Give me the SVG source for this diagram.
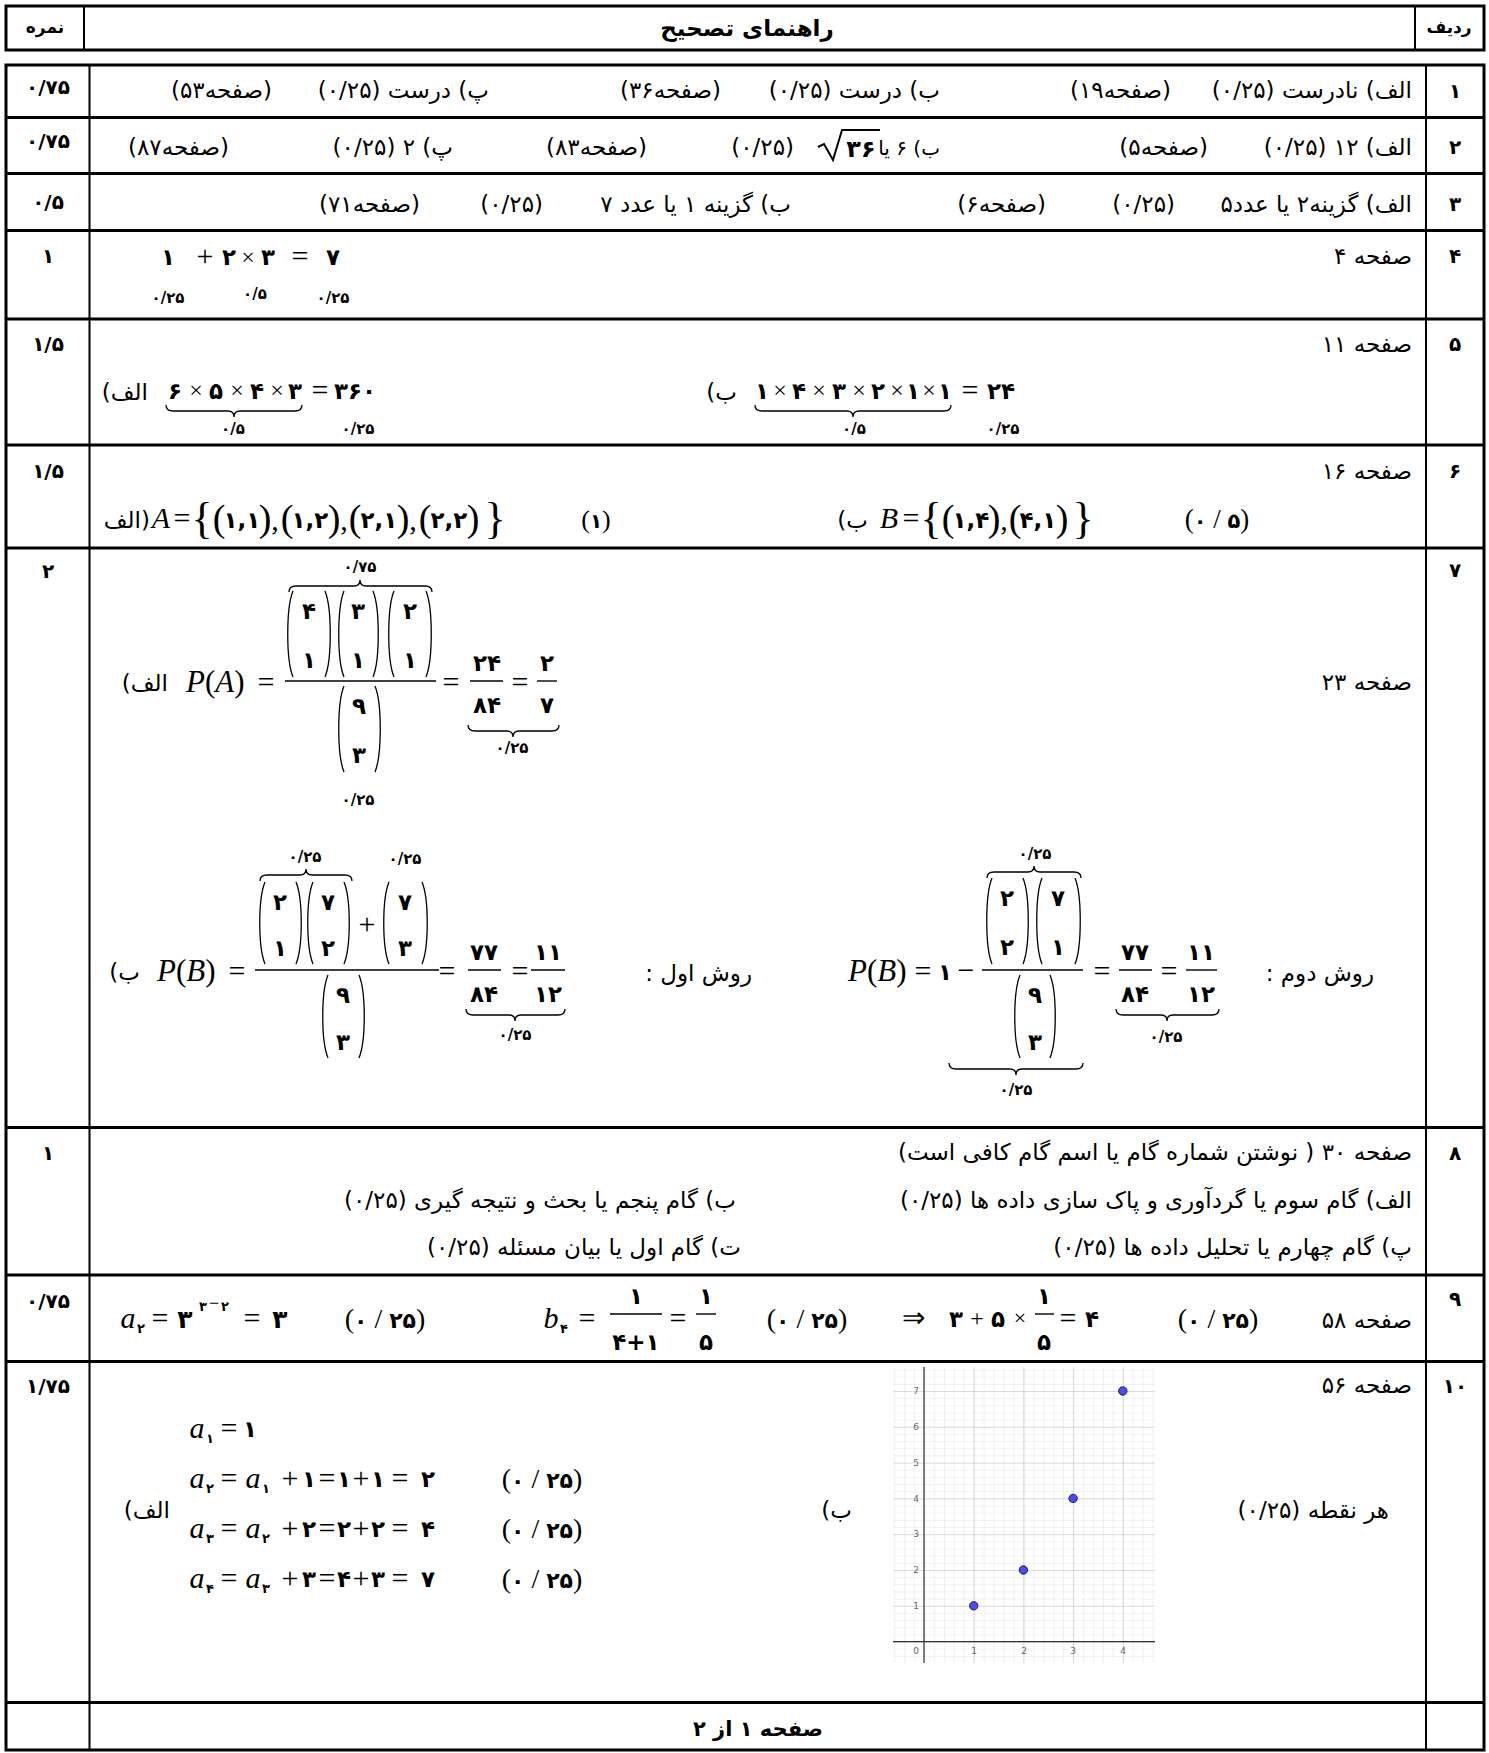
<svg xmlns="http://www.w3.org/2000/svg" width="1489" height="1753" viewBox="0 0 1489 1753">
<defs>
<style>
.ln{stroke:#000;fill:none}
.t3{stroke-width:3}
.t2{stroke-width:2}
.fa{font-family:"DejaVu Sans",sans-serif;font-size:23px;direction:rtl;text-anchor:start}
.fb{font-family:"DejaVu Sans",sans-serif;font-weight:bold;text-anchor:middle}
.rn{font-size:20px}
.sc{font-size:20px}
.m{font-family:"Liberation Serif",serif;font-size:30px;text-anchor:middle}
.ms{font-family:"Liberation Serif",serif;font-size:31px;text-anchor:start}
.it{font-style:italic}
.d{font-family:"DejaVu Sans",sans-serif;font-weight:bold;font-size:23px;text-anchor:middle}
.dg{font-family:"DejaVu Sans",sans-serif;font-weight:bold}
.ds{font-family:"DejaVu Sans",sans-serif;font-weight:bold;font-size:15px;text-anchor:middle}
.sub{font-family:"DejaVu Sans",sans-serif;font-weight:bold;font-size:13px;text-anchor:middle}
.br{fill:none;stroke:#000;stroke-width:1.3}
.bar{stroke:#000;stroke-width:1.4}
.gl{font-family:"DejaVu Sans",sans-serif;font-size:9px;fill:#666;text-anchor:middle}
</style>
<pattern id="minor" patternUnits="userSpaceOnUse" x="924" y="1641.6" width="9.94" height="7.16">
<path d="M0 0 L9.94 0 M0 0 L0 7.16" stroke="#e4e4e4" stroke-width="1" fill="none"/>
</pattern>
<pattern id="major" patternUnits="userSpaceOnUse" x="924" y="1641.6" width="49.7" height="35.8">
<path d="M0 0 L49.7 0 M0 0 L0 35.8" stroke="#c4c4c4" stroke-width="1.2" fill="none"/>
</pattern>
</defs>
<rect width="1489" height="1753" fill="#fff"/>

<g id="header">
<rect class="ln t3" x="6" y="6" width="1478" height="44"/>
<line class="ln t2" x1="84" y1="6" x2="84" y2="50"/>
<line class="ln t2" x1="1415" y1="6" x2="1415" y2="50"/>
<text class="fb" style="font-size:17px" x="45" y="33">نمره</text>
<text class="fb" style="font-size:23px" x="747" y="36">راهنمای تصحیح</text>
<text class="fb" style="font-size:17px" x="1449" y="33">ردیف</text>
</g>

<g id="table-grid">
<rect class="ln t3" x="6" y="65" width="1478" height="1685"/>
<line class="ln t2" x1="89.5" y1="65" x2="89.5" y2="1750"/>
<line class="ln t2" x1="1426" y1="65" x2="1426" y2="1750"/>
<line class="ln t3" x1="6" y1="117.5" x2="1484" y2="117.5"/>
<line class="ln t3" x1="6" y1="173.5" x2="1484" y2="173.5"/>
<line class="ln t3" x1="6" y1="230.5" x2="1484" y2="230.5"/>
<line class="ln t3" x1="6" y1="319" x2="1484" y2="319"/>
<line class="ln t3" x1="6" y1="445" x2="1484" y2="445"/>
<line class="ln t3" x1="6" y1="548" x2="1484" y2="548"/>
<line class="ln t3" x1="6" y1="1127.5" x2="1484" y2="1127.5"/>
<line class="ln t3" x1="6" y1="1275" x2="1484" y2="1275"/>
<line class="ln t3" x1="6" y1="1361.5" x2="1484" y2="1361.5"/>
<line class="ln t3" x1="6" y1="1702.5" x2="1484" y2="1702.5"/>
</g>

<g id="row-numbers" class="fb rn">
<text x="1455" y="98">۱</text>
<text x="1455" y="154">۲</text>
<text x="1455" y="211">۳</text>
<text x="1455" y="263">۴</text>
<text x="1455" y="351">۵</text>
<text x="1455" y="478">۶</text>
<text x="1455" y="577">۷</text>
<text x="1455" y="1160">۸</text>
<text x="1455" y="1306">۹</text>
<text x="1455" y="1393">۱۰</text>
</g>

<g id="scores" class="fb sc">
<text x="48" y="94">۰/۷۵</text>
<text x="48" y="148">۰/۷۵</text>
<text x="48" y="209">۰/۵</text>
<text x="48" y="263">۱</text>
<text x="48" y="351">۱/۵</text>
<text x="48" y="478">۱/۵</text>
<text x="48" y="578">۲</text>
<text x="48" y="1160">۱</text>
<text x="48" y="1308">۰/۷۵</text>
<text x="48" y="1393">۱/۷۵</text>
</g>

<g id="row1">
<text class="fa" x="1412" y="98">الف) نادرست (۰/۲۵)</text>
<text class="fa" x="1171" y="98">(صفحه۱۹)</text>
<text class="fa" x="940" y="98">ب) درست (۰/۲۵)</text>
<text class="fa" x="721" y="98">(صفحه۳۶)</text>
<text class="fa" x="489" y="98">پ) درست (۰/۲۵)</text>
<text class="fa" x="272" y="98">(صفحه۵۳)</text>
</g>

<g id="row2">
<text class="fa" x="1412" y="155">الف) ۱۲  (۰/۲۵)</text>
<text class="fa" x="1208" y="155">(صفحه۵)</text>
<text class="fa" style="font-size:20px" x="940" y="155">ب) ۶ یا</text>
<path class="ln" stroke-width="2" d="M818 147 L824 144 L833 160 L842 130 L880 130"/>
<text class="d" style="font-size:24px" x="861" y="157">۳۶</text>
<text class="fa" x="794" y="155">(۰/۲۵)</text>
<text class="fa" x="647" y="155">(صفحه۸۳)</text>
<text class="fa" x="453" y="155">پ) ۲  (۰/۲۵)</text>
<text class="fa" x="229" y="155">(صفحه۸۷)</text>
</g>

<g id="row3">
<text class="fa" x="1412" y="212">الف) گزینه۲ یا عدد۵</text>
<text class="fa" x="1175" y="212">(۰/۲۵)</text>
<text class="fa" x="1046" y="212">(صفحه۶)</text>
<text class="fa" x="791" y="212">ب) گزینه ۱  یا عدد ۷</text>
<text class="fa" x="543" y="212">(۰/۲۵)</text>
<text class="fa" x="420" y="212">(صفحه۷۱)</text>
</g>

<g id="row4">
<text class="fa" x="1412" y="264">صفحه ۴</text>
<text class="d" x="168" y="265">۱</text>
<text class="m" x="205" y="266">+</text>
<text class="d" x="229" y="265">۲</text>
<text class="m" style="font-size:24px" x="248" y="265">×</text>
<text class="d" x="268" y="265">۳</text>
<text class="m" x="300" y="266">=</text>
<text class="d" x="333" y="265">۷</text>
<text class="ds" x="168" y="303">۰/۲۵</text>
<text class="ds" x="255" y="299">۰/۵</text>
<text class="ds" x="333" y="303">۰/۲۵</text>
</g>

<g id="row5">
<text class="fa" x="1412" y="352">صفحه ۱۱</text>
<text class="fa" x="148" y="400">الف)</text>
<text class="d" x="175" y="399">۶</text>
<text class="m" style="font-size:24px" x="196" y="398">×</text>
<text class="d" x="216" y="399">۵</text>
<text class="m" style="font-size:24px" x="237" y="398">×</text>
<text class="d" x="257" y="399">۴</text>
<text class="m" style="font-size:24px" x="277" y="398">×</text>
<text class="d" x="295" y="399">۳</text>
<text class="m" x="320" y="400">=</text>
<text class="d" x="355" y="399">۳۶۰</text>
<path class="br" d="M166 405 Q166 411 173 411 L228 411 Q234 411 234 417 Q234 411 240 411 L295 411 Q302 411 302 405"/>
<text class="ds" x="233" y="434">۰/۵</text>
<text class="ds" x="358" y="434">۰/۲۵</text>
<text class="fa" x="737" y="400">ب)</text>
<text class="d" x="762" y="399">۱</text>
<text class="m" style="font-size:24px" x="780" y="398">×</text>
<text class="d" x="799" y="399">۴</text>
<text class="m" style="font-size:24px" x="819" y="398">×</text>
<text class="d" x="839" y="399">۳</text>
<text class="m" style="font-size:24px" x="859" y="398">×</text>
<text class="d" x="878" y="399">۲</text>
<text class="m" style="font-size:24px" x="897" y="398">×</text>
<text class="d" x="913" y="399">۱</text>
<text class="m" style="font-size:24px" x="929" y="398">×</text>
<text class="d" x="945" y="399">۱</text>
<text class="m" x="970" y="400">=</text>
<text class="d" x="1001" y="399">۲۴</text>
<path class="br" d="M755 405 Q755 411 762 411 L847 411 Q853 411 853 417 Q853 411 859 411 L944 411 Q951 411 951 405"/>
<text class="ds" x="854" y="434">۰/۵</text>
<text class="ds" x="1003" y="434">۰/۲۵</text>
</g>

<g id="row6">
<text class="fa" x="1412" y="479">صفحه ۱۶</text>
<text style="font-family:'DejaVu Sans',sans-serif;font-size:23px;direction:ltr;text-anchor:end" x="150" y="528">الف)</text>
<text class="m it" x="161" y="528">A</text>
<text class="m" x="182" y="528">=</text>
<text class="m" style="font-size:44px" x="202" y="533">{</text>
<text class="m" style="font-size:38px" x="219" y="531">(</text>
<text class="d" x="242" y="528">۱,۱</text>
<text class="m" style="font-size:38px" x="265" y="531">)</text>
<text class="m" x="275" y="530">,</text>
<text class="m" style="font-size:38px" x="287" y="531">(</text>
<text class="d" x="310" y="528">۱,۲</text>
<text class="m" style="font-size:38px" x="334" y="531">)</text>
<text class="m" x="344" y="530">,</text>
<text class="m" style="font-size:38px" x="355" y="531">(</text>
<text class="d" x="379" y="528">۲,۱</text>
<text class="m" style="font-size:38px" x="403" y="531">)</text>
<text class="m" x="413" y="530">,</text>
<text class="m" style="font-size:38px" x="425" y="531">(</text>
<text class="d" x="449" y="528">۲,۲</text>
<text class="m" style="font-size:38px" x="473" y="531">)</text>
<text class="m" style="font-size:44px" x="495" y="533">}</text>
<text class="m" style="font-size:26px" x="596" y="528">(<tspan class="dg" style="font-size:20px">۱</tspan>)</text>
<text class="fa" x="868" y="528">ب)</text>
<text class="m it" x="889" y="528">B</text>
<text class="m" x="911" y="528">=</text>
<text class="m" style="font-size:44px" x="931" y="533">{</text>
<text class="m" style="font-size:38px" x="948" y="531">(</text>
<text class="d" x="971" y="528">۱,۴</text>
<text class="m" style="font-size:38px" x="994" y="531">)</text>
<text class="m" x="1004" y="530">,</text>
<text class="m" style="font-size:38px" x="1015" y="531">(</text>
<text class="d" x="1038" y="528">۴,۱</text>
<text class="m" style="font-size:38px" x="1062" y="531">)</text>
<text class="m" style="font-size:44px" x="1083" y="533">}</text>
<text class="m" style="font-size:27px" x="1217" y="528">(<tspan class="dg" style="font-size:21px">۰</tspan> / <tspan class="dg" style="font-size:21px">۵</tspan>)</text>
</g>

<g id="row7">
<text class="fa" x="1412" y="690">صفحه ۲۳</text>
<!-- part a -->
<text class="fa" x="168" y="691">الف)</text>
<text class="ms" x="186" y="692"><tspan class="it">P</tspan>(<tspan class="it">A</tspan>)</text>
<text class="m" x="266" y="692">=</text>
<line class="bar" x1="285" y1="681" x2="436" y2="681"/>
<path class="br" d="M293 591 C286 608 286 660 293 677 M325 591 C332 608 332 660 325 677 M344 591 C337 608 337 660 344 677 M373 591 C380 608 380 660 373 677 M394 591 C387 608 387 660 394 677 M426 591 C433 608 433 660 426 677"/>
<text class="d" x="309" y="619">۴</text><text class="d" x="309" y="668">۱</text>
<text class="d" x="358" y="619">۳</text><text class="d" x="358" y="668">۱</text>
<text class="d" x="410" y="619">۲</text><text class="d" x="410" y="668">۱</text>
<path class="br" d="M289 592 Q289 586 296 586 L354 586 Q360 586 360 580 Q360 586 366 586 L425 586 Q432 586 432 592"/>
<text class="ds" x="360" y="572">۰/۷۵</text>
<path class="br" d="M344 686 C337 703 337 755 344 772 M375 686 C382 703 382 755 375 772"/>
<text class="d" x="359" y="714">۹</text><text class="d" x="359" y="763">۳</text>
<text class="ds" x="358" y="805">۰/۲۵</text>
<text class="m" x="451" y="692">=</text>
<line class="bar" x1="470" y1="681" x2="503" y2="681"/>
<text class="d" x="487" y="671">۲۴</text><text class="d" x="487" y="713">۸۴</text>
<text class="m" x="520" y="692">=</text>
<line class="bar" x1="537" y1="681" x2="557" y2="681"/>
<text class="d" x="547" y="671">۲</text><text class="d" x="547" y="713">۷</text>
<path class="br" d="M468 725 Q468 731 475 731 L507 731 Q513 731 513 737 Q513 731 519 731 L552 731 Q559 731 559 725"/>
<text class="ds" x="512" y="753">۰/۲۵</text>
<!-- part b, method 1 -->
<text class="fa" x="140" y="980">ب)</text>
<text class="ms" x="157" y="981"><tspan class="it">P</tspan>(<tspan class="it">B</tspan>)</text>
<text class="m" x="237" y="981">=</text>
<line class="bar" x1="255" y1="970" x2="439" y2="970"/>
<path class="br" d="M265 882 C258 899 258 947 265 964 M296 882 C303 899 303 947 296 964 M313 882 C306 899 306 947 313 964 M344 882 C351 899 351 947 344 964 M389 882 C382 899 382 947 389 964 M422 882 C429 899 429 947 422 964"/>
<text class="d" x="280" y="910">۲</text><text class="d" x="280" y="956">۱</text>
<text class="d" x="328" y="910">۷</text><text class="d" x="328" y="956">۲</text>
<text class="m" x="367" y="934">+</text>
<text class="d" x="405" y="910">۷</text><text class="d" x="405" y="956">۳</text>
<path class="br" d="M260 881 Q260 875 267 875 L300 875 Q306 875 306 869 Q306 875 312 875 L345 875 Q352 875 352 881"/>
<text class="ds" x="305" y="862">۰/۲۵</text>
<text class="ds" x="405" y="864">۰/۲۵</text>
<path class="br" d="M328 975 C321 992 321 1041 328 1058 M359 975 C366 992 366 1041 359 1058"/>
<text class="d" x="343" y="1003">۹</text><text class="d" x="343" y="1050">۳</text>
<text class="m" x="447" y="981">=</text>
<line class="bar" x1="468" y1="970" x2="501" y2="970"/>
<text class="d" x="484" y="960">۷۷</text><text class="d" x="484" y="1002">۸۴</text>
<text class="m" x="520" y="981">=</text>
<line class="bar" x1="531" y1="970" x2="565" y2="970"/>
<text class="d" x="548" y="960">۱۱</text><text class="d" x="548" y="1002">۱۲</text>
<path class="br" d="M466 1009 Q466 1015 473 1015 L509 1015 Q515 1015 515 1021 Q515 1015 521 1015 L558 1015 Q565 1015 565 1009"/>
<text class="ds" x="515" y="1040">۰/۲۵</text>
<text class="fa" x="752" y="981">روش اول :</text>
<!-- part b, method 2 -->
<text class="fa" x="1374" y="981">روش دوم :</text>
<text class="ms" x="848" y="981"><tspan class="it">P</tspan>(<tspan class="it">B</tspan>)</text>
<text class="m" x="923" y="981">=</text>
<text class="d" x="945" y="980">۱</text>
<text class="m" x="966" y="980">−</text>
<line class="bar" x1="982" y1="970" x2="1083" y2="970"/>
<path class="br" d="M992 878 C985 895 985 947 992 964 M1023 878 C1030 895 1030 947 1023 964 M1042 878 C1035 895 1035 947 1042 964 M1075 878 C1082 895 1082 947 1075 964"/>
<text class="d" x="1007" y="906">۲</text><text class="d" x="1007" y="955">۲</text>
<text class="d" x="1058" y="906">۷</text><text class="d" x="1058" y="955">۱</text>
<path class="br" d="M987 878 Q987 872 994 872 L1028 872 Q1034 872 1034 866 Q1034 872 1040 872 L1074 872 Q1081 872 1081 878"/>
<text class="ds" x="1035" y="859">۰/۲۵</text>
<path class="br" d="M1020 975 C1013 992 1013 1041 1020 1058 M1050 975 C1057 992 1057 1041 1050 1058"/>
<text class="d" x="1035" y="1003">۹</text><text class="d" x="1035" y="1050">۳</text>
<path class="br" d="M949 1063 Q949 1069 956 1069 L1010 1069 Q1016 1069 1016 1075 Q1016 1069 1022 1069 L1076 1069 Q1083 1069 1083 1063"/>
<text class="ds" x="1016" y="1095">۰/۲۵</text>
<text class="m" x="1102" y="981">=</text>
<line class="bar" x1="1119" y1="970" x2="1152" y2="970"/>
<text class="d" x="1135" y="960">۷۷</text><text class="d" x="1135" y="1002">۸۴</text>
<text class="m" x="1169" y="981">=</text>
<line class="bar" x1="1186" y1="970" x2="1217" y2="970"/>
<text class="d" x="1201" y="960">۱۱</text><text class="d" x="1201" y="1002">۱۲</text>
<path class="br" d="M1116 1009 Q1116 1015 1123 1015 L1161 1015 Q1167 1015 1167 1021 Q1167 1015 1173 1015 L1212 1015 Q1219 1015 1219 1009"/>
<text class="ds" x="1166" y="1042">۰/۲۵</text>
</g>

<g id="row8">
<text class="fa" x="1412" y="1160">صفحه ۳۰  ( نوشتن شماره گام یا اسم گام کافی است)</text>
<text class="fa" x="1412" y="1208">الف) گام سوم یا گردآوری و پاک سازی داده ها  (۰/۲۵)</text>
<text class="fa" x="736" y="1208">ب) گام پنجم یا بحث و نتیجه گیری  (۰/۲۵)</text>
<text class="fa" x="1412" y="1255">پ) گام چهارم یا تحلیل داده ها (۰/۲۵)</text>
<text class="fa" x="741" y="1255">ت) گام اول یا بیان مسئله (۰/۲۵)</text>
</g>

<g id="row9">
<text class="fa" x="1412" y="1328">صفحه ۵۸</text>
<text class="m it" x="128" y="1328">a</text><text class="sub" x="141" y="1333">۲</text>
<text class="m" x="160" y="1328">=</text>
<text class="d" style="font-size:25px" x="185" y="1328">۳</text>
<text class="sub" x="203" y="1311">۳</text><text class="m" style="font-size:18px" x="214" y="1309">−</text><text class="sub" x="225" y="1311">۲</text>
<text class="m" x="252" y="1328">=</text>
<text class="d" style="font-size:25px" x="280" y="1328">۳</text>
<text class="m" style="font-size:28px" x="385" y="1328">(<tspan class="dg" style="font-size:22px">۰</tspan> / <tspan class="dg" style="font-size:22px">۲۵</tspan>)</text>
<text class="m it" x="551" y="1328">b</text><text class="sub" x="564" y="1333">۴</text>
<text class="m" x="587" y="1328">=</text>
<line class="bar" x1="610" y1="1314" x2="662" y2="1314"/>
<text class="d" x="636" y="1304">۱</text><text class="d" x="636" y="1350">۴+۱</text>
<text class="m" x="678" y="1328">=</text>
<line class="bar" x1="696" y1="1314" x2="716" y2="1314"/>
<text class="d" x="706" y="1304">۱</text><text class="d" x="706" y="1350">۵</text>
<text class="m" style="font-size:28px" x="807" y="1328">(<tspan class="dg" style="font-size:22px">۰</tspan> / <tspan class="dg" style="font-size:22px">۲۵</tspan>)</text>
<text class="m" style="font-size:28px" x="913" y="1327">⇒</text>
<text class="d" x="956" y="1327">۳</text>
<text class="m" style="font-size:24px" x="977" y="1326">+</text>
<text class="d" x="998" y="1327">۵</text>
<text class="m" style="font-size:22px" x="1020" y="1325">×</text>
<line class="bar" x1="1035" y1="1314" x2="1054" y2="1314"/>
<text class="d" x="1044" y="1304">۱</text><text class="d" x="1044" y="1350">۵</text>
<text class="m" x="1068" y="1328">=</text>
<text class="d" x="1092" y="1327">۴</text>
<text class="m" style="font-size:28px" x="1218" y="1328">(<tspan class="dg" style="font-size:22px">۰</tspan> / <tspan class="dg" style="font-size:22px">۲۵</tspan>)</text>
</g>

<g id="row10">
<text class="fa" x="1412" y="1393">صفحه ۵۶</text>
<text class="fa" x="1389" y="1518">هر نقطه (۰/۲۵)</text>
<text class="fa" x="852" y="1518">ب)</text>
<text class="fa" x="170" y="1518">الف)</text>
<g id="seq">
<text class="m it" x="197" y="1438">a</text><text class="sub" x="210" y="1443">۱</text>
<text class="m" x="229" y="1438">=</text><text class="d" x="250" y="1437">۱</text>

<text class="m it" x="197" y="1488">a</text><text class="sub" x="210" y="1493">۲</text>
<text class="m" x="229" y="1488">=</text>
<text class="m it" x="253" y="1488">a</text><text class="sub" x="266" y="1493">۱</text>
<text class="m" x="290" y="1488">+</text><text class="d" x="309" y="1487">۱</text>
<text class="m" x="327" y="1488">=</text><text class="d" x="344" y="1487">۱</text>
<text class="m" x="361" y="1488">+</text><text class="d" x="378" y="1487">۱</text>
<text class="m" x="400" y="1488">=</text><text class="d" x="428" y="1487">۲</text>
<text class="m" style="font-size:28px" x="542" y="1488">(<tspan class="dg" style="font-size:22px">۰</tspan> / <tspan class="dg" style="font-size:22px">۲۵</tspan>)</text>

<text class="m it" x="197" y="1538">a</text><text class="sub" x="210" y="1543">۳</text>
<text class="m" x="229" y="1538">=</text>
<text class="m it" x="253" y="1538">a</text><text class="sub" x="266" y="1543">۲</text>
<text class="m" x="290" y="1538">+</text><text class="d" x="309" y="1537">۲</text>
<text class="m" x="327" y="1538">=</text><text class="d" x="344" y="1537">۲</text>
<text class="m" x="361" y="1538">+</text><text class="d" x="378" y="1537">۲</text>
<text class="m" x="400" y="1538">=</text><text class="d" x="428" y="1537">۴</text>
<text class="m" style="font-size:28px" x="542" y="1538">(<tspan class="dg" style="font-size:22px">۰</tspan> / <tspan class="dg" style="font-size:22px">۲۵</tspan>)</text>

<text class="m it" x="197" y="1588">a</text><text class="sub" x="210" y="1593">۴</text>
<text class="m" x="229" y="1588">=</text>
<text class="m it" x="253" y="1588">a</text><text class="sub" x="266" y="1593">۳</text>
<text class="m" x="290" y="1588">+</text><text class="d" x="309" y="1587">۳</text>
<text class="m" x="327" y="1588">=</text><text class="d" x="344" y="1587">۴</text>
<text class="m" x="361" y="1588">+</text><text class="d" x="378" y="1587">۳</text>
<text class="m" x="400" y="1588">=</text><text class="d" x="428" y="1587">۷</text>
<text class="m" style="font-size:28px" x="542" y="1588">(<tspan class="dg" style="font-size:22px">۰</tspan> / <tspan class="dg" style="font-size:22px">۲۵</tspan>)</text>
</g>
<g id="graph">
<rect x="893" y="1367" width="262" height="296" fill="#fff"/>
<rect x="893" y="1367" width="262" height="296" fill="url(#minor)"/>
<rect x="893" y="1367" width="262" height="296" fill="url(#major)"/>
<line x1="924" y1="1367" x2="924" y2="1663" stroke="#333" stroke-width="1.2"/>
<line x1="893" y1="1641.6" x2="1155" y2="1641.6" stroke="#333" stroke-width="1.2"/>
<text class="gl" x="916" y="1609">1</text>
<text class="gl" x="916" y="1573">2</text>
<text class="gl" x="916" y="1537">3</text>
<text class="gl" x="916" y="1502">4</text>
<text class="gl" x="916" y="1466">5</text>
<text class="gl" x="916" y="1430">6</text>
<text class="gl" x="916" y="1394">7</text>
<text class="gl" x="916" y="1654">0</text>
<text class="gl" x="974" y="1654">1</text>
<text class="gl" x="1024" y="1654">2</text>
<text class="gl" x="1073" y="1654">3</text>
<text class="gl" x="1123" y="1654">4</text>
<g fill="#4a4cf0" stroke="#1c1c7a" stroke-width="1">
<circle cx="973.7" cy="1605.8" r="4.2"/>
<circle cx="1023.4" cy="1570" r="4.2"/>
<circle cx="1073.1" cy="1498.4" r="4.2"/>
<circle cx="1122.8" cy="1391" r="4.2"/>
</g>
</g>
</g>

<g id="footer">
<text class="fb" style="font-size:21px;direction:rtl" x="758" y="1736">صفحه ۱ از ۲</text>
</g>
</svg>
